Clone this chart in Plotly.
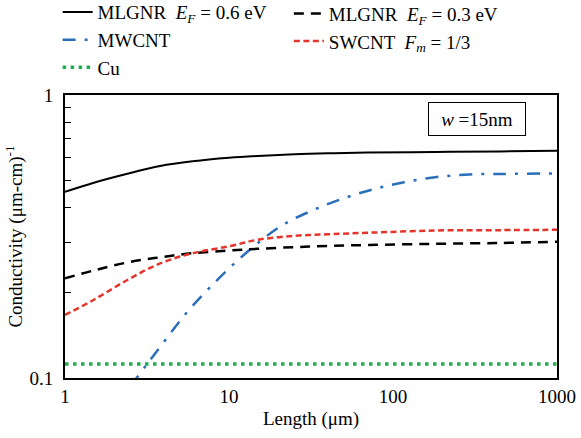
import plotly.graph_objects as go

# Interconnect length (um) shared by the MLGNR, SWCNT and Cu curves
length = [1, 1.5, 2.4, 3.8, 6, 10, 15, 25, 40, 70, 180, 450, 1000]

mlgnr_06 = [0.455, 0.490, 0.527, 0.561, 0.583, 0.600, 0.609, 0.617, 0.622, 0.626, 0.629, 0.632, 0.635]
mlgnr_03 = [0.225, 0.240, 0.256, 0.267, 0.276, 0.282, 0.286, 0.290, 0.293, 0.295, 0.298, 0.300, 0.303]
swcnt = [0.167, 0.189, 0.222, 0.254, 0.276, 0.292, 0.308, 0.318, 0.322, 0.326, 0.332, 0.333, 0.334]
cu = [0.112] * len(length)

# MWCNT has its own sampling (it enters the plot from below 0.1)
length_mw = [2.5, 3.17, 4.16, 5.51, 7.47, 10.4, 14.7, 21.2, 31.9, 48.7, 75.3, 117, 185, 292, 462, 1000]
mwcnt = [0.0935, 0.112, 0.138, 0.170, 0.206, 0.249, 0.297, 0.347, 0.390, 0.429, 0.464, 0.492, 0.513, 0.524, 0.526, 0.528]

x_ticks = [1, 10, 100, 1000]
x_tick_text = ["1", "10", "100", "1000"]
y_ticks = [0.1, 1]
y_tick_text = ["0.1", "1"]
y_minor = [0.2, 0.3, 0.4, 0.5, 0.6, 0.7, 0.8, 0.9]

FONT = "Liberation Serif, Times New Roman, serif"
BLUE = "#2a6fba"
RED = "#e5352b"
GREEN = "#18b24a"

fig = go.Figure()

fig.add_trace(go.Scatter(
    x=length, y=mlgnr_06, mode="lines", line=dict(color="black", width=2, shape="spline"),
    name="MLGNR  <i>E<sub>F</sub></i> = 0.6 eV", legend="legend"))
fig.add_trace(go.Scatter(
    x=length_mw, y=mwcnt, mode="lines",
    line=dict(color=BLUE, width=2.5, dash="13px,9px,3px,9px", shape="spline"),
    name="MWCNT", legend="legend"))
fig.add_trace(go.Scatter(
    x=length, y=cu, mode="lines", line=dict(color=GREEN, width=3.5, dash="3.5px,4.5px"),
    name="Cu", legend="legend"))
fig.add_trace(go.Scatter(
    x=length, y=mlgnr_03, mode="lines",
    line=dict(color="black", width=2.5, dash="10px,7px", shape="spline"),
    name="MLGNR  <i>E<sub>F</sub></i> = 0.3 eV", legend="legend2"))
fig.add_trace(go.Scatter(
    x=length, y=swcnt, mode="lines",
    line=dict(color=RED, width=2.5, dash="6px,3.5px", shape="spline"),
    name="SWCNT  <i>F<sub>m</sub></i> = 1/3", legend="legend2"))

legend_common = dict(
    font=dict(family=FONT, size=19, color="black"),
    bgcolor="rgba(0,0,0,0)", borderwidth=0,
    xanchor="left", yanchor="top", tracegroupgap=0, itemwidth=30,
)

fig.update_layout(
    width=581, height=438,
    margin=dict(l=65, r=24, t=95, b=60, autoexpand=False),
    paper_bgcolor="white", plot_bgcolor="white",
    font=dict(family=FONT, size=19, color="black"),
    showlegend=True,
    legend=dict(x=-0.015, y=1.36, **legend_common),
    legend2=dict(x=0.455, y=1.355, **legend_common),
    xaxis=dict(
        type="log", range=[0, 3],
        tickvals=x_ticks, ticktext=x_tick_text, ticks="",
        showgrid=False, zeroline=False,
        showline=True, linecolor="black", linewidth=2, mirror=True,
        tickfont=dict(family=FONT, size=19),
        title=dict(text="Length (μm)", font=dict(family=FONT, size=19), standoff=6),
    ),
    yaxis=dict(
        type="log", range=[-1, 0],
        tickvals=y_ticks, ticktext=y_tick_text, ticks="",
        ticklabelstandoff=6,
        showgrid=False, zeroline=False,
        showline=True, linecolor="black", linewidth=2, mirror=True,
        tickfont=dict(family=FONT, size=19),
        minor=dict(tickvals=y_minor, ticks="inside", ticklen=6, tickwidth=1, tickcolor="black", showgrid=False),
        title=dict(text="Conductivity (μm-cm)<sup>-1</sup>", font=dict(family=FONT, size=19), standoff=2),
    ),
    annotations=[dict(
        xref="paper", yref="paper", x=0.837, y=0.914,
        text="<i>w</i> =15nm", showarrow=False,
        font=dict(family=FONT, size=19, color="black"),
        width=86, height=22,
        bordercolor="black", borderwidth=1, borderpad=5, bgcolor="white",
        xanchor="center", yanchor="middle",
    )],
)

fig.write_html("out.html")
